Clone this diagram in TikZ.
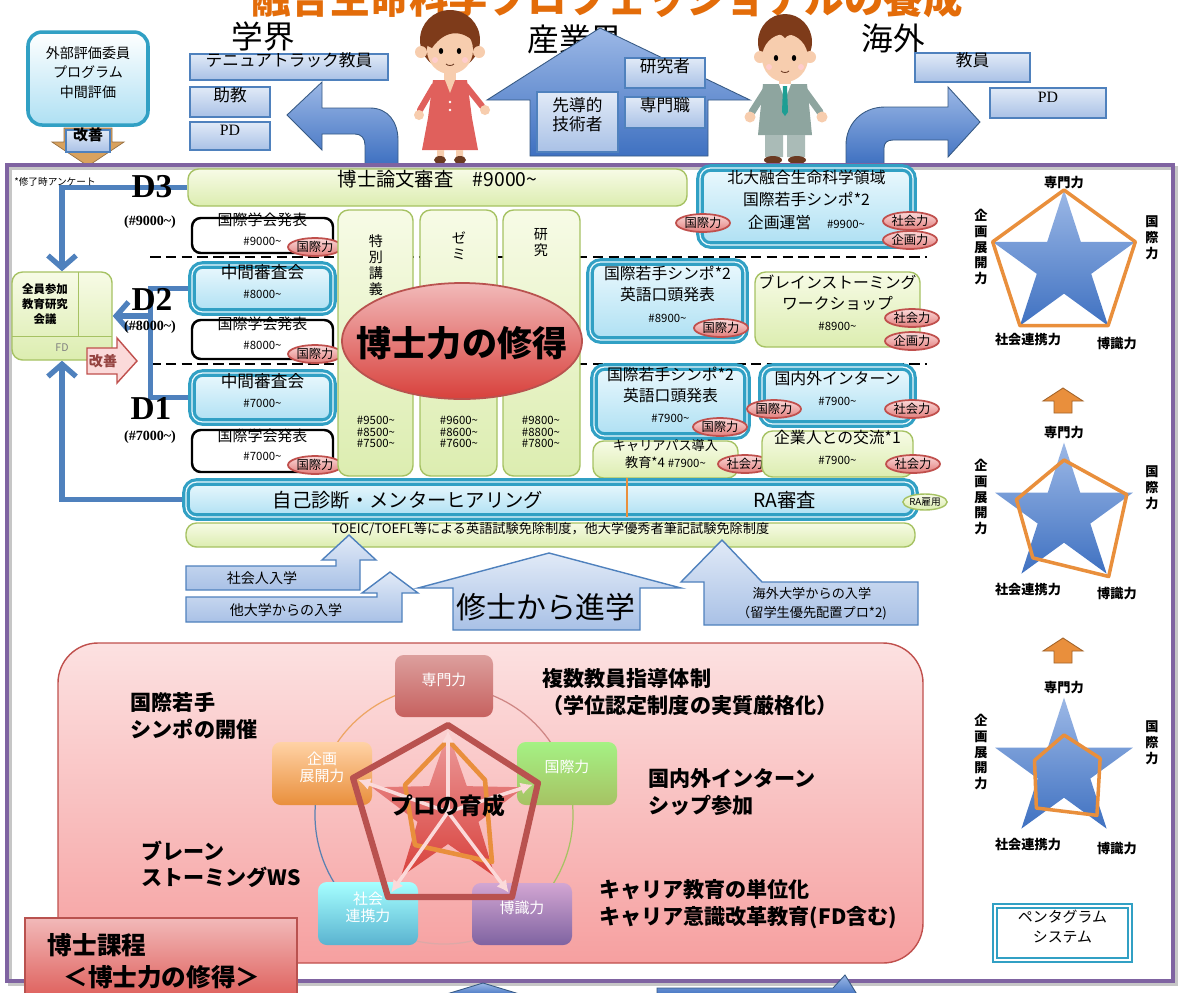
\documentclass[tikz,border=0pt]{standalone}
\usepackage{fontspec}
\setmainfont{Noto Sans CJK JP}
\newfontfamily\dfont{Liberation Serif}
\usetikzlibrary{shapes.geometric,arrows.meta,fit,backgrounds}
\newcommand\fs[2]{\fontsize{#1}{#2}\selectfont}
\newcommand\til{\textasciitilde}

\definecolor{titleorange}{HTML}{E36C09}
\definecolor{frameviolet}{HTML}{7F63A1}
\definecolor{boxblue}{HTML}{4F81BD}
\definecolor{paleblue}{HTML}{E1EAF7}
\definecolor{midblue}{HTML}{A9C1E6}
\definecolor{arrowlight}{HTML}{9CB8E6}
\definecolor{arrowdark}{HTML}{3F71C1}
\definecolor{cyanedge}{HTML}{31A0C4}
\definecolor{cyanlight}{HTML}{EAF8FD}
\definecolor{cyanmid}{HTML}{AEE0F3}
\definecolor{greenedge}{HTML}{A6C263}
\definecolor{greenlight}{HTML}{F7FBE6}
\definecolor{greenmid}{HTML}{DCEDB0}
\definecolor{pinkedge}{HTML}{C0504D}
\definecolor{pinklight}{HTML}{FBDADA}
\definecolor{pinkmid}{HTML}{EC9B9B}
\definecolor{chipred}{HTML}{E27D7B}
\definecolor{ellred}{HTML}{D8413C}
\definecolor{boxpink}{HTML}{FCE1E1}
\definecolor{boxsalmon}{HTML}{F6A0A0}
\definecolor{pentred}{HTML}{B9524F}
\definecolor{starorange}{HTML}{E98F3C}
\definecolor{tanarrow}{HTML}{D9A25E}
\definecolor{skin}{HTML}{F7CDAE}
\definecolor{hair}{HTML}{7E3B1A}
\definecolor{dress}{HTML}{E0605C}
\definecolor{suit}{HTML}{8EA59F}
\definecolor{tieteal}{HTML}{1E9E93}
\definecolor{shoe}{HTML}{6B3A22}

\begin{document}
\begin{tikzpicture}[x=0.02cm,y=-0.02cm]
 \tikzstyle{bluebox}=[draw=boxblue,line width=0.8pt,top color=paleblue,bottom color=midblue,inner sep=0pt,align=center,font=\fs{9.5}{11}]
 \tikzstyle{bigarrow}=[draw=boxblue!70!black,line width=0.5pt,top color=arrowlight,bottom color=arrowdark]
 \tikzstyle{cyanbox}=[draw=cyanedge,line width=1.8pt,double=cyanlight,double distance=0.7pt,rounded corners=6pt,top color=cyanlight,bottom color=cyanmid,inner sep=0pt,align=center,font=\fs{8.5}{11}]
 \tikzstyle{greenbox}=[draw=greenedge,line width=0.8pt,rounded corners=6pt,top color=greenlight,bottom color=greenmid,inner sep=0pt,align=center,font=\fs{8.5}{11}]
 \tikzstyle{blackbox}=[draw=black,line width=1.4pt,rounded corners=5pt,fill=white,inner sep=0pt,align=center,font=\fs{8.5}{11}]
 \tikzstyle{chip}=[ellipse,draw=pinkedge,line width=1pt,top color=pinklight,bottom color=chipred,inner sep=0pt,minimum width=1.08cm,minimum height=0.36cm,font=\fs{7}{7}]
 \tikzstyle{flow}=[draw=boxblue,line width=3pt]
 \tikzstyle{barb}=[-{Straight Barb[length=7pt,width=16pt]}]
 \tikzstyle{dlab}=[font=\dfont\bfseries\fs{19}{19}]
 \tikzstyle{dnum}=[font=\dfont\bfseries\fs{8}{9}]
 \tikzstyle{capbox}=[rounded corners=5pt,inner sep=0pt,align=center,text=white,font=\fs{8.5}{10}]
 \tikzstyle{lab}=[align=center,font=\bfseries\fs{12}{15}]
 \tikzstyle{blustar}=[star,star points=5,star point ratio=2.62,inner sep=0pt,top color=arrowlight,bottom color=arrowdark]
 \tikzstyle{radar}=[starorange,line width=2pt,line join=round]
 \tikzstyle{plab}=[align=center,font=\bfseries\fs{7.5}{9}]

 \useasboundingbox (0,0) rectangle (1184,992);
 \clip (0,0) rectangle (1184,992);
 \begin{scope}[on background layer]
  \fill[white] (0,0) rectangle (1184,992);
 \end{scope}

 \node[anchor=base,text=titleorange,font=\bfseries\fs{22.5}{24}] (title) at (607,13) {融合生命科学プロフェッショナルの養成};

 % evaluation committee
 \node[draw=cyanedge,line width=2pt,rounded corners=8pt,top color=white,bottom color=cyanmid,inner sep=0pt,align=center,font=\fs{8}{11},fit={(28,32) (148,125)}] (ext) {外部評価委員\\プログラム\\中間評価};
 \fill[tanarrow,draw=tanarrow!70!black] (64,128) -- (112,128) -- (112,142) -- (124,142) -- (88,166) -- (52,142) -- (64,142) -- cycle;
 \node[bluebox,font=\bfseries\fs{8.5}{9},fit={(66,130) (110,152)}] (kz1) {改善};

 % academia
 \node[font=\fs{18}{18}] (gakkai) at (263,36) {学界};
 \path[bigarrow] (287,115) -- (322,82) -- (322,108) -- (370,108) .. controls (388,108) and (398,122) .. (398,140) -- (398,164) -- (365,164) -- (365,145) .. controls (365,138) and (361,134) .. (355,134) -- (322,134) -- (322,150) -- cycle;
 \node[bluebox,fit={(190,54) (388,80)}] (tt) {テニュアトラック教員};
 \node[bluebox,fit={(190,87) (270,117)}] (jk) {助教};
 \node[bluebox,font=\dfont\fs{9}{10},fit={(190,122) (270,150)}] (pd1) {PD};

 % industry
 \node[font=\fs{18}{18}] (sangyo) at (575,40) {産業界};
 \path[bigarrow] (487,100) -- (600,28) -- (750,100) -- (708,100) -- (708,156) -- (530,156) -- (530,100) -- cycle;
 \node[bluebox,fit={(625,58) (705,88)}] (kk) {研究者};
 \node[bluebox,fit={(625,97) (705,128)}] (sm) {専門職};
 \node[bluebox,fit={(537,92) (618,152)}] (sd) {先導的\\技術者};

 % overseas
 \node[font=\fs{18}{18}] (kaigai) at (893,38) {海外};
 \path[bigarrow] (980,122) -- (948,87) -- (948,107) -- (885,107) .. controls (862,107) and (846,124) .. (846,145) -- (846,164) -- (884,164) -- (884,148) .. controls (884,143) and (887,140) .. (893,140) -- (948,140) -- (948,157) -- cycle;
 \node[bluebox,fit={(915,53) (1030,82)}] (ky) {教員};
 \node[bluebox,font=\dfont\fs{9}{10},fit={(990,88) (1106,118)}] (pd2) {PD};

 % woman
 \fill[hair] (450,40) ellipse (30 and 30);
 \fill[skin] (421,52) circle (6) (479,52) circle (6);
 \fill[skin] (450,50) ellipse (23 and 24);
 \fill[hair] (424,44) .. controls (424,12) and (476,12) .. (476,44) .. controls (464,30) and (446,28) .. (432,48) -- cycle;
 \fill (441,51) ellipse (2.2 and 3) (459,51) ellipse (2.2 and 3);
 \fill[pink!80] (435,60) circle (3) (465,60) circle (3);
 \draw[shoe,line width=0.5pt] (446,64) .. controls (448,66) and (452,66) .. (454,64);
 \fill[skin] (444,72) rectangle (456,82);
 \draw[dress,line width=3.5pt,line cap=round] (434,86) -- (420,110) (466,86) -- (482,106);
 \fill[dress] (433,80) -- (467,80) -- (472,118) -- (478,150) -- (422,150) -- (428,118) -- cycle;
 \fill[skin] (445,80) -- (450,93) -- (455,80) -- cycle;
 \fill[white] (450,102) circle (1.4) (450,110) circle (1.4);
 \fill[skin] (419,115) circle (5) (485,110) circle (5);
 \fill[skin] (437,150) rectangle (444,158) (456,150) rectangle (463,158);
 \fill[shoe] (440,160) ellipse (6 and 4) (460,160) ellipse (6 and 4);

 % man
 \fill[hair] (785,42) ellipse (27 and 28);
 \fill[skin] (760,57) circle (6) (810,57) circle (6);
 \fill[skin] (785,58) ellipse (23 and 24);
 \fill[hair] (760,48) .. controls (760,14) and (810,14) .. (810,48) .. controls (800,34) and (790,32) .. (785,38) .. controls (778,30) and (768,34) .. (760,48) -- cycle;
 \fill (776,58) ellipse (2.2 and 3) (794,58) ellipse (2.2 and 3);
 \fill[pink!80] (769,67) circle (3) (801,67) circle (3);
 \draw[shoe,line width=0.5pt] (781,71) .. controls (783,73) and (787,73) .. (789,71);
 \fill[skin] (779,78) rectangle (791,86);
 \draw[suit,line width=4pt,line cap=round] (766,90) -- (752,112) (804,90) -- (820,112);
 \fill[suit] (763,84) -- (807,84) -- (812,135) -- (758,135) -- cycle;
 \fill[white] (779,84) -- (785,100) -- (791,84) -- cycle;
 \fill[tieteal] (783,86) -- (787,86) -- (788,112) -- (785,116) -- (782,112) -- cycle;
 \fill[skin] (750,117) circle (5.5) (822,117) circle (5.5);
 \fill[suit!75] (765,135) rectangle (783,157) (787,135) rectangle (805,157);
 \fill[shoe] (773,160) ellipse (9 and 4) (797,160) ellipse (9 and 4);

 % main frame
 \draw[gray!45,line width=2.2pt] (10,168) rectangle (1176,984);
 \draw[frameviolet,line width=2.4pt] (7,165) rectangle (1173,981);

 \node[font=\fs{5.5}{6}] (enq) at (55,182) {*修了時アンケート};
 \node[dlab] (d3) at (152,187) {D3};
 \node[dnum] (n3) at (150,222) {(\#9000\til)};
 \node[dlab] (d2) at (152,299) {D2};
 \node[dnum] (n2) at (150,327) {(\#8000\til)};
 \node[dlab] (d1) at (151,409) {D1};
 \node[dnum] (n1) at (150,437) {(\#7000\til)};

 \node[greenbox,fit={(12,272) (112,360)}] (fd) {};
 \draw[greenedge] (78,272) -- (78,336) (12,336) -- (112,336);
 \node[align=center,font=\bfseries\fs{6.5}{8.5}] (fdt) at (45,304) {全員参加\\教育研究\\会議};
 \node[text=gray,font=\fs{6}{6}] (fdl) at (62,348) {FD};
 \path[fill=pinklight,draw=pinkedge,line width=0.8pt] (87,348) -- (117,348) -- (117,338) -- (137,361) -- (117,383) -- (117,374) -- (87,374) -- cycle;
 \node[text=pentred!80!black,font=\bfseries\fs{8}{8}] (kz2) at (103,361) {改善};

 \node[greenbox,font=\fs{11}{12},fit={(188,169) (687,206)}] (thesis) {博士論文審査\quad\#9000\til};

 \node[blackbox,fit={(192,218) (333,253)}] (ic3) {国際学会発表\\{\fs{6.5}{7}\#9000\til\hspace{16pt}}};
 \node[cyanbox,font=\fs{9.5}{11},fit={(192,265) (333,312)}] (mid2) {中間審査会\\{\fs{6.5}{7}\#8000\til}};
 \node[blackbox,fit={(192,320) (333,359)}] (ic2) {国際学会発表\\{\fs{6.5}{7}\#8000\til\hspace{16pt}}};
 \node[cyanbox,font=\fs{9.5}{11},fit={(192,373) (333,422)}] (mid1) {中間審査会\\{\fs{6.5}{7}\#7000\til}};
 \node[blackbox,fit={(192,430) (333,472)}] (ic1) {国際学会発表\\{\fs{6.5}{7}\#7000\til\hspace{16pt}}};
 \node[chip] (c1) at (315,247) {国際力};
 \node[chip] (c2) at (315,354) {国際力};
 \node[chip] (c3) at (315,465) {国際力};

 % coursework columns
 \node[greenbox,fit={(338,210) (413,476)}] (col1) {};
 \node[greenbox,fit={(420,210) (497,476)}] (col2) {};
 \node[greenbox,fit={(503,210) (580,476)}] (col3) {};
 \node[align=center,font=\fs{8}{9.1}] (t1) at (376,265) {特\\別\\講\\義};
 \node[align=center,font=\fs{8}{9.1}] (t2) at (459,246) {ゼ\\ミ};
 \node[align=center,font=\fs{8}{9.1}] (t3) at (541,243) {研\\究};
 \node[align=center,font=\fs{6.5}{6.4}] (m1) at (376,432) {\#9500\til\\\#8500\til\\\#7500\til};
 \node[align=center,font=\fs{6.5}{6.4}] (m2) at (459,432) {\#9600\til\\\#8600\til\\\#7600\til};
 \node[align=center,font=\fs{6.5}{6.4}] (m3) at (541,432) {\#9800\til\\\#8800\til\\\#7800\til};
 \path[draw=pentred,line width=1pt,top color=pinkmid!70,bottom color=ellred] (462,341) ellipse (120 and 58);
 \node[font=\bfseries\fs{20}{20}] (hak) at (462,343) {博士力の修得};

 % events on the right
 \node[cyanbox,font=\fs{9}{13},fit={(700,168) (913,245)}] (hk) {北大融合生命科学領域\\国際若手シンポ*2\\企画運営\quad{\fs{6.5}{7}\#9900\til}};
 \node[chip] (c4) at (703,223) {国際力};
 \node[chip] (c5) at (910,221) {社会力};
 \node[chip] (c6) at (910,240) {企画力};
 \node[cyanbox,font=\fs{9}{12},fit={(590,262) (745,340)}] (sy8) {国際若手シンポ*2\\英語口頭発表\\{\fs{6.5}{7}\#8900\til\hspace{20pt}}};
 \node[chip] (c7) at (721,328) {国際力};
 \node[greenbox,font=\fs{9}{12},fit={(755,272) (920,347)}] (bs) {ブレインストーミング\\ワークショップ\hspace{14pt}\\{\fs{6.5}{7}\#8900\til\hspace{20pt}}};
 \node[chip] (c8) at (912,318) {社会力};
 \node[chip] (c9) at (912,341) {企画力};
 \node[cyanbox,font=\fs{9}{12},fit={(594,367) (747,436)}] (sy7) {国際若手シンポ*2\\英語口頭発表\\{\fs{6.5}{7}\#7900\til\hspace{20pt}}};
 \node[chip] (c10) at (720,427) {国際力};
 \node[cyanbox,font=\fs{9}{12},fit={(762,367) (913,424)}] (it) {国内外インターン\\{\fs{6.5}{7}\#7900\til}};
 \node[chip] (c11) at (774,409) {国際力};
 \node[chip] (c12) at (912,409) {社会力};
 \node[greenbox,font=\fs{7.5}{10},fit={(593,441) (738,478)}] (cp) {キャリアパス導入\\教育*4\ {\fs{6.5}{7}\#7900\til}\hspace{22pt}};
 \node[chip] (c13) at (745,464) {社会力};
 \node[greenbox,font=\fs{9}{12},fit={(762,431) (913,477)}] (kg) {企業人との交流*1\\{\fs{6.5}{7}\#7900\til}};
 \node[chip] (c14) at (913,464) {社会力};

 \node[cyanbox,fit={(186,482) (915,517)}] (self) {};
 \node[font=\fs{11}{12}] (selft) at (408,500) {自己診断・メンターヒアリング};
 \node[font=\fs{11}{12}] (ra) at (785,500) {RA審査};
 \draw[starorange,line width=0.8pt] (627,478) -- (627,517);
 \node[ellipse,draw=greenedge,line width=0.8pt,top color=greenlight,bottom color=greenmid,inner sep=0pt,minimum width=0.66cm,minimum height=0.32cm,font=\fs{5.5}{6}] (rak) at (925,502) {RA雇用};
 \node[greenbox,font=\fs{7.5}{8},fit={(186,523) (915,547)}] (toeic) {TOEIC/TOEFL等による英語試験免除制度，他大学優秀者筆記試験免除制度};

 % admission routes
 \path[bluebox] (186,566) -- (336,566) -- (336,560) -- (322,560) -- (349,535) -- (376,560) -- (360,560) -- (360,590) -- (186,590) -- cycle;
 \node[font=\fs{8}{9}] (shakai) at (262,578) {社会人入学};
 \path[bluebox] (186,597) -- (377,597) -- (377,593) -- (362,593) -- (390,572) -- (418,593) -- (402,593) -- (402,622) -- (186,622) -- cycle;
 \node[font=\fs{8}{9}] (tadai) at (286,610) {他大学からの入学};
 \path[bluebox] (453,630) -- (453,588) -- (418,588) -- (549,553) -- (681,588) -- (640,588) -- (640,630) -- cycle;
 \node[font=\fs{17}{18}] (shushi) at (546,607) {修士から進学};
 \path[bluebox] (704,625) -- (704,582) -- (681,582) -- (722,540) -- (762,582) -- (918,582) -- (918,625) -- cycle;
 \node[align=center,font=\fs{7.5}{11}] (ryu) at (812,604) {海外大学からの入学\\（留学生優先配置プロ*2)};

 % feedback loop to the FD meeting
 \begin{scope}[on background layer]
  \draw[line width=0.8pt,dash pattern=on 6pt off 3pt] (150,257) -- (927,257) (150,364) -- (927,364);
  \draw[flow,barb] (thesis.west) -| (fd.north);
  \draw[flow,barb] (self.west) -| (fd.south);
  \draw[flow] (mid2.west) -- ++(-40,0) |- (mid1.west);
  \coordinate (jn) at (152,316);
  \draw[flow,barb] (jn) -- (fd.east);
 \end{scope}

 % professional training panel
 \path[draw=pinkedge,line width=0.8pt,rounded corners=0.8cm,top color=boxpink,bottom color=boxsalmon] (58,643) rectangle (923,963);
 \node[lab,align=left] (l1) at (194,716) {国際若手\\シンポの開催};
 \node[lab,align=left] (l2) at (690,692) {複数教員指導体制\\（学位認定制度の実質厳格化）};
 \node[lab,align=left] (l3) at (732,792) {国内外インターン\\シップ参加};
 \node[lab,align=left] (l4) at (221,864) {ブレーン\\ストーミングWS};
 \node[lab,align=left] (l5) at (748,904) {キャリア教育の単位化\\キャリア意識改革教育(FD含む)};
 \draw[pentred!70,line width=0.7pt] (444,815) ++(-90:129) arc (-90:-18:129);
 \draw[greenedge,line width=0.7pt] (444,815) ++(-18:129) arc (-18:54:129);
 \draw[pentred!50,line width=0.7pt] (444,815) ++(54:129) arc (54:126:129);
 \draw[boxblue!80!gray,line width=0.7pt] (444,815) ++(126:129) arc (126:198:129);
 \draw[starorange!80,line width=0.7pt] (444,815) ++(198:129) arc (198:270:129);
 \node[capbox,top color=pinkedge!55,bottom color=pinkedge!90,fit={(395,655) (493,717)}] (sen) {専門力};
 \node[capbox,top color=green!25!greenmid,bottom color=greenedge,fit={(517,742) (617,805)}] (kok) {国際力};
 \node[capbox,top color=violet!35,bottom color=frameviolet,fit={(472,883) (572,945)}] (hks) {博識力};
 \node[capbox,top color=cyan!35,bottom color=cyanedge!80,fit={(318,882) (418,945)}] (shk) {社会\\連携力};
 \node[capbox,top color=orange!35,bottom color=starorange,fit={(272,742) (372,805)}] (kik) {企画\\展開力};
 \node[star,star points=5,star point ratio=2.5,minimum size=3.2cm,inner sep=0pt,top color=pinkmid,bottom color=ellred] (pstar) at (448,812) {};
 \coordinate (pv1) at (448,725);
 \coordinate (pv2) at (538,783);
 \coordinate (pv3) at (512,897);
 \coordinate (pv4) at (388,897);
 \coordinate (pv5) at (353,778);
 \draw[radar,line width=2.6pt] (448,740) -- (485,780) -- (492,862) -- (415,845) -- (405,785) -- cycle;
 \foreach \v in {pv1,pv2,pv3,pv4,pv5}
  \draw[pinklight,line width=2pt,-{Latex[length=7pt,width=7pt]},shorten >=3pt] (pstar.center) -- (\v);
 \draw[pentred,line width=3.5pt,line join=round] (pv1) -- (pv2) -- (pv3) -- (pv4) -- (pv5) -- cycle;
 \node[font=\bfseries\fs{13}{13}] (pro) at (448,806) {プロの育成};

 % pentagram system
 \node[blustar,minimum size=3cm] (s1) at (1064,265) {};
 \draw[radar] ([shift={(-90:75)}]1064,265) -- ([shift={(-18:75)}]1064,265) -- ([shift={(54:75)}]1064,265) -- ([shift={(126:75)}]1064,265) -- ([shift={(198:75)}]1064,265) -- cycle;
 \node[blustar,minimum size=2.9cm] (s2) at (1064,515) {};
 \draw[radar] ([shift={(-90:55)}]1064,515) -- ([shift={(-18:66)}]1064,515) -- ([shift={(54:76)}]1064,515) -- ([shift={(126:53)}]1064,515) -- ([shift={(198:50)}]1064,515) -- cycle;
 \node[blustar,minimum size=2.9cm] (s3) at (1064,770) {};
 \draw[radar] ([shift={(-90:35)}]1064,770) -- ([shift={(-18:38)}]1064,770) -- ([shift={(54:56)}]1064,770) -- ([shift={(126:47)}]1064,770) -- ([shift={(198:31)}]1064,770) -- cycle;
 \foreach \y/\k in {0/a,250/b,505/c} {
  \node[plab] (sen\k) at (1064,183+\y) {専門力};
  \node[plab] (kik\k) at (981,247+\y) {企\\画\\展\\開\\力};
  \node[plab] (kok\k) at (1152,238+\y) {国\\際\\力};
  \node[plab] (shk\k) at (1028,340+\y) {社会連携力};
  \node[plab] (hks\k) at (1117,343+\y) {博識力};
 }
 \foreach \y in {388,638}
  \path[fill=starorange,draw=starorange!70!black,line width=0.5pt] (1063,\y) -- (1083,\y+13) -- (1072,\y+13) -- (1072,\y+25) -- (1054,\y+25) -- (1054,\y+13) -- (1043,\y+13) -- cycle;
 \node[draw=cyanedge,line width=1.2pt,double=white,double distance=1.5pt,inner sep=0pt,align=center,font=\fs{8.5}{11.5},fit={(995,906) (1130,960)}] (pg) {ペンタグラム\\システム};

 \node[draw=pentred,line width=0.8pt,top color=pinkmid!70,bottom color=ellred!85,inner sep=0pt,fit={(25,918) (297,1000)}] (dk) {};
 \node[font=\bfseries\fs{14}{14}] (dk1) at (97,945) {博士課程};
 \node[font=\bfseries\fs{14}{14}] (dk2) at (162,977) {＜博士力の修得＞};

 \path[bigarrow] (440,996) -- (483,983) -- (526,996) -- cycle;
 \path[bigarrow] (657,996) -- (657,988) -- (833,988) -- (845,975) -- (858,996) -- cycle;
\end{tikzpicture}
\end{document}
